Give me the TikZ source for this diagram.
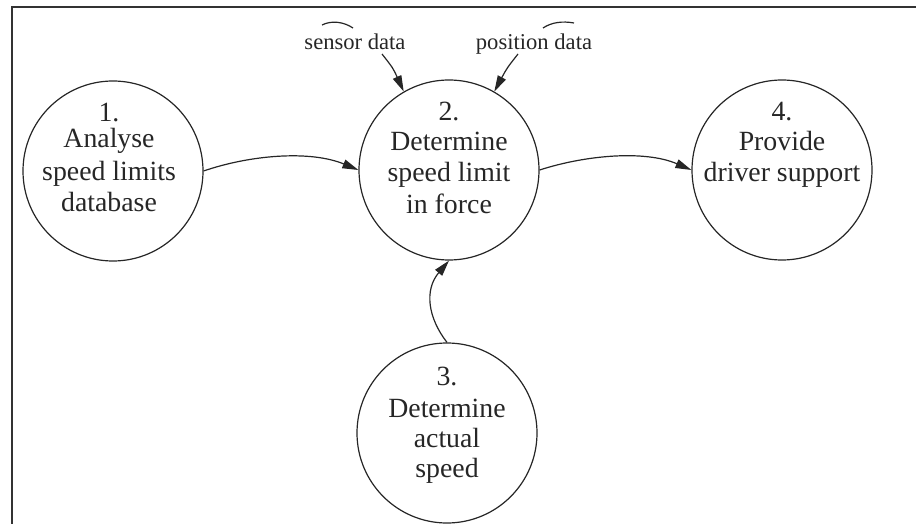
\documentclass[tikz,border=0pt]{standalone}
\usepackage{fontspec}
\setmainfont{Liberation Serif}
\usetikzlibrary{arrows.meta}
\begin{document}
\begin{tikzpicture}[x=0.5pt,y=-0.5pt,
  proc/.style={draw=black!85, line width=0.6pt, circle, minimum size=90pt, inner sep=0pt},
  ptext/.style={anchor=base, inner sep=0pt, text=black!85, font=\fontsize{13.9}{16}\selectfont},
  ext/.style={anchor=base, inner sep=0pt, text=black!85, font=\fontsize{11.3}{13}\selectfont},
  flow/.style={draw=black!85, line width=0.6pt, -{Triangle[length=8pt,width=4.5pt]}},
  mark line/.style={draw=black!85, line width=0.6pt},
]
\useasboundingbox (0,0) rectangle (916,524);
\draw[line width=1pt, black!80] (12,524) -- (12,7) -- (916,7);

\node[proc] (c1) at (113,171) {};
\node[proc] (c2) at (449,170) {};
\node[proc] (c3) at (447,433) {};
\node[proc] (c4) at (782,170) {};

\node[ptext] (t1) at (109,122) {\begin{tabular}[t]{@{}c@{}}1.\\[-3pt] Analyse\\ speed limits\\ database\end{tabular}};
\node[ptext] (t2) at (449,120) {\begin{tabular}[t]{@{}c@{}}2.\\[-1pt] Determine\\ speed limit\\ in force\end{tabular}};
\node[ptext] (t3) at (447,385) {\begin{tabular}[t]{@{}c@{}}3.\\ Determine\\[-1pt] actual\\[-1pt] speed\end{tabular}};
\node[ptext] (t4) at (782,120) {\begin{tabular}[t]{@{}c@{}}4.\\[-1pt] Provide\\ driver support\end{tabular}};

\node[ext] (sd) at (355,50) {sensor data};
\node[ext] (pd) at (534,50) {position data};
\draw[mark line] (322,25) .. controls (332,20) and (344,22) .. (353,28);
\draw[mark line] (543,28) .. controls (552,22) and (563,21) .. (574,23);

\coordinate (s0) at (382,54);
\coordinate (p0) at (518,54);

\draw[flow] (c1.east) .. controls (250,155) and (310,150) .. (c2.west);
\draw[flow] (c2.east) .. controls (586,155) and (645,150) .. (c4.west);
\draw[flow] (c3.north) .. controls (428,318) and (424,290) .. (c2.south);
\draw[flow] (s0) .. controls (393,68) .. (c2.120);
\draw[flow] (p0) .. controls (507,68) .. (c2.60);
\end{tikzpicture}
\end{document}
